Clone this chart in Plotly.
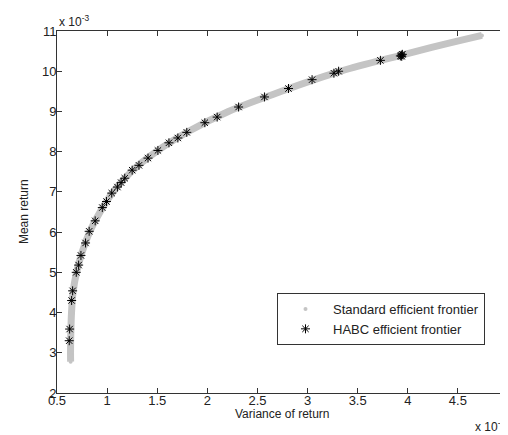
import plotly.graph_objects as go

# standard efficient frontier (x 1e-3), read along the grey band
std_var = [0.636, 0.635, 0.638, 0.645, 0.66, 0.695, 0.75, 0.825, 0.93, 1.06, 1.24,
           1.49, 1.81, 2.21, 2.74, 3.33, 3.94, 4.35, 4.74]
std_ret = [2.78, 3.0, 3.5, 4.0, 4.5, 5.0, 5.5, 6.0, 6.5, 7.0, 7.5,
           8.0, 8.5, 9.0, 9.5, 10.0, 10.4, 10.66, 10.89]

# HABC efficient frontier points (x 1e-3)
habc_var = [0.622, 0.626, 0.646, 0.656, 0.692, 0.716, 0.739, 0.785, 0.821, 0.881,
            0.952, 0.994, 1.046, 1.103, 1.14, 1.176, 1.25, 1.318, 1.408, 1.507,
            1.617, 1.706, 1.795, 1.975, 2.098, 2.312, 2.57, 2.81, 3.045, 3.263,
            3.31, 3.727, 3.926, 3.936, 3.946, 3.94]
habc_ret = [3.30, 3.59, 4.30, 4.54, 5.00, 5.18, 5.42, 5.73, 6.02, 6.28,
            6.61, 6.76, 6.97, 7.12, 7.23, 7.34, 7.54, 7.66, 7.84, 8.03,
            8.22, 8.34, 8.48, 8.72, 8.86, 9.11, 9.36, 9.57, 9.79, 9.95,
            10.00, 10.27, 10.38, 10.40, 10.42, 10.37]

font = 'Liberation Sans, Arial, sans-serif'
axcol = '#333333'

fig = go.Figure()
fig.add_trace(go.Scatter(x=std_var, y=std_ret, mode='lines', line_shape='spline',
                         line=dict(color='#c4c4c4', width=7),
                         showlegend=False, hoverinfo='skip'))
fig.add_trace(go.Scatter(x=std_var, y=std_ret, mode='markers',
                         marker=dict(color='#c4c4c4', size=4),
                         name='Standard efficient frontier'))
fig.add_trace(go.Scatter(x=habc_var, y=habc_ret, mode='markers',
                         marker=dict(symbol='asterisk-open', size=7.5, color='black',
                                     line=dict(color='black', width=1)),
                         name='HABC efficient frontier'))

axis = dict(showline=True, linecolor=axcol, linewidth=1, mirror='ticks',
            ticks='inside', ticklen=5, tickcolor=axcol, showgrid=False,
            zeroline=False, tickfont=dict(family=font, size=13, color='#222'))

fig.update_xaxes(range=[0.5, 5], tickvals=[0.5, 1, 1.5, 2, 2.5, 3, 3.5, 4, 4.5, 5],
                 ticktext=['0.5', '1', '1.5', '2', '2.5', '3', '3.5', '4', '4.5', '5'],
                 ticklabelstandoff=-5, **axis)
fig.update_yaxes(range=[2, 11], dtick=1, ticklabelstandoff=-3, **axis)

ann = dict(showarrow=False, font=dict(family=font, size=12, color='#222'))
# page body adds an 8px offset, so the figure is 8px smaller than the window
fig.update_layout(
    width=500, height=427,
    margin=dict(l=49, r=0, t=23, b=42),
    paper_bgcolor='white', plot_bgcolor='white',
    font=dict(family=font, size=12, color='#222'),
    legend=dict(x=(277 - 57) / 451, y=(393 - 293) / 362, xanchor='left', yanchor='top',
                bordercolor=axcol, borderwidth=1, bgcolor='white',
                font=dict(family=font, size=13, color='#222'), itemwidth=45,
                tracegroupgap=0),
    annotations=[
        dict(text='Variance of return', xref='paper', yref='paper', x=0.5, y=-0.058,
             xanchor='center', yanchor='middle', **ann),
        dict(text='Mean return', xref='paper', yref='paper', x=-0.073, y=0.5,
             textangle=-90, xanchor='center', yanchor='middle', **ann),
        dict(text='x 10<sup>-3</sup>', xref='paper', yref='paper', x=0, y=1.0,
             xanchor='left', yanchor='bottom', **ann),
        dict(text='x 10<sup>-3</sup>', xref='paper', yref='paper', x=0.922, y=-0.09,
             xanchor='left', yanchor='middle', **ann),
    ],
)

fig.write_html('out.html')
